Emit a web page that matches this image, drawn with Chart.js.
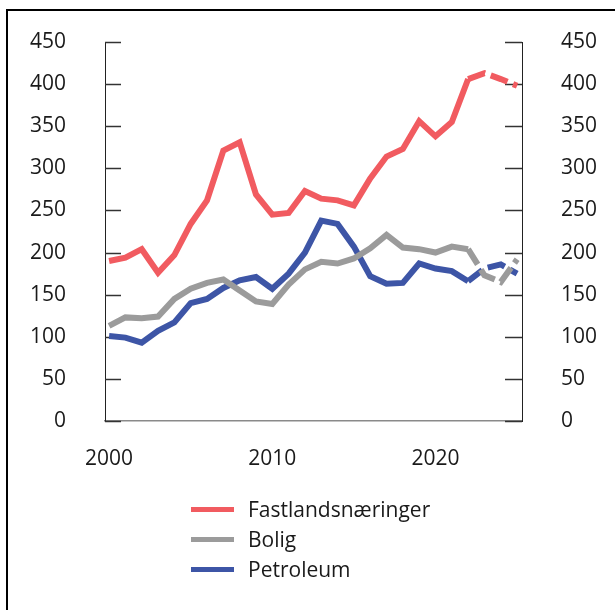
<!DOCTYPE html>
<html>
<head>
<meta charset="utf-8">
<script src="https://cdn.jsdelivr.net/npm/chart.js@4.4.1/dist/chart.umd.min.js"></script>
<style>
  html, body { margin: 0; padding: 0; background: #fff; overflow: hidden; }
  #wrap { position: relative; width: 615px; height: 610px; overflow: hidden; }
  #frame { position: absolute; left: 6px; top: 9px; width: 700px; height: 700px; border: 2px solid #000; }
  #chart { position: absolute; left: 0; top: 0; }
  #legend { position: absolute; left: 191px; top: 494px; font-family: "Open Sans", sans-serif; font-size: 21px; color: #1a1a1a; }
  .item { height: 30px; display: flex; align-items: center; }
  .swatch { width: 43px; height: 5px; margin-right: 14px; }
</style>
</head>
<body>
<div id="wrap">
  <div id="frame"></div>
  <canvas id="chart" width="615" height="610"></canvas>
  <div id="legend"></div>
</div>
<script>
let years = [2000, 2001, 2002, 2003, 2004, 2005, 2006, 2007, 2008, 2009, 2010, 2011, 2012,
             2013, 2014, 2015, 2016, 2017, 2018, 2019, 2020, 2021, 2022, 2023, 2024, 2025];
let fastland = [190, 194, 204, 176, 197, 234, 262, 321, 331, 269, 245, 247, 273,
                264, 262, 256, 288, 314, 323, 356, 338, 355, 406, 413, 406, 398];
let bolig = [113, 123, 122, 124, 145, 157, 164, 168, 155, 142, 139, 162, 180,
             189, 187, 193, 205, 221, 206, 204, 200, 207, 204, 173, 165, 192];
let petroleum = [101, 99, 93, 107, 117, 140, 145, 158, 167, 171, 157, 175, 200,
                 238, 234, 207, 172, 163, 164, 187, 181, 178, 166, 181, 186, 175];
let seriesNames = ['Fastlandsnæringer', 'Bolig', 'Petroleum'];
let seriesColors = ['#f15b60', '#9b9b9b', '#3d55a6'];
let xTicks = [2000, 2010, 2020];
let forecastFrom = 2022;

let font = { family: '"Open Sans", sans-serif', size: 21 };

function points(values) {
    return years.map((y, i) => ({ x: y, y: values[i] }));
}

function dataset(i, values) {
    return {
        label: seriesNames[i],
        data: points(values),
        borderColor: seriesColors[i],
        borderWidth: 6,
        pointRadius: 0,
        tension: 0,
        yAxisID: 'y',
        segment: {
            borderDash: ctx => ctx.p0.parsed.x >= forecastFrom ? [18, 6] : undefined
        }
    };
}

// small tick marks pointing into the plot on both y axes
let innerTicks = {
    id: 'innerTicks',
    beforeDatasetsDraw(chart) {
        let c = chart.ctx;
        c.save();
        c.strokeStyle = '#333';
        c.lineWidth = 1.5;
        ['y', 'y2'].forEach(id => {
            let s = chart.scales[id];
            s.ticks.forEach(t => {
                let py = Math.round(s.getPixelForValue(t.value)) + 0.5;
                let x0 = id === 'y' ? chart.chartArea.left : chart.chartArea.right;
                let x1 = id === 'y' ? x0 + 16 : x0 - 17;
                c.beginPath();
                c.moveTo(x0, py);
                c.lineTo(x1, py);
                c.stroke();
            });
        });
        c.restore();
    }
};

// tick padding would otherwise push the plot top down
let yAxis = (pos, width) => ({
    position: pos,
    min: 0,
    max: 450,
    ticks: { stepSize: 50, color: '#1a1a1a', font: font, padding: 39 },
    grid: { display: false, drawTicks: false },
    border: { display: true, color: '#222', width: 1 },
    afterFit: s => { s.width = width; s.paddingTop = 10; s.paddingBottom = 10; }
});

let ctx_line = document.getElementById('chart');

let chart_line = new Chart(ctx_line, {
    type: 'line',
    data: {
        datasets: [dataset(0, fastland), dataset(1, bolig), dataset(2, petroleum)]
    },
    options: {
        responsive: false,
        animation: false,
        layout: { padding: { left: 0, right: 0, top: 42, bottom: 129 } },
        plugins: { legend: { display: false }, tooltip: { enabled: false } },
        scales: {
            x: {
                type: 'linear',
                min: 1999.75,
                max: 2025.3,
                afterBuildTicks: s => { s.ticks = xTicks.map(v => ({ value: v })); },
                ticks: { color: '#1a1a1a', font: font, padding: 25, callback: v => String(v) },
                grid: { display: false, drawTicks: false },
                border: { display: true, color: '#8a8a8a', width: 1.5 },
                afterFit: s => { s.height = 60; }
            },
            y: yAxis('left', 105),
            y2: yAxis('right', 93)
        }
    },
    plugins: [innerTicks]
});

let legend = document.getElementById('legend');
seriesNames.forEach((name, i) => {
    let row = document.createElement('div');
    row.className = 'item';
    let sw = document.createElement('div');
    sw.className = 'swatch';
    sw.style.background = seriesColors[i];
    let txt = document.createElement('span');
    txt.textContent = name;
    row.appendChild(sw);
    row.appendChild(txt);
    legend.appendChild(row);
});
</script>
</body>
</html>
